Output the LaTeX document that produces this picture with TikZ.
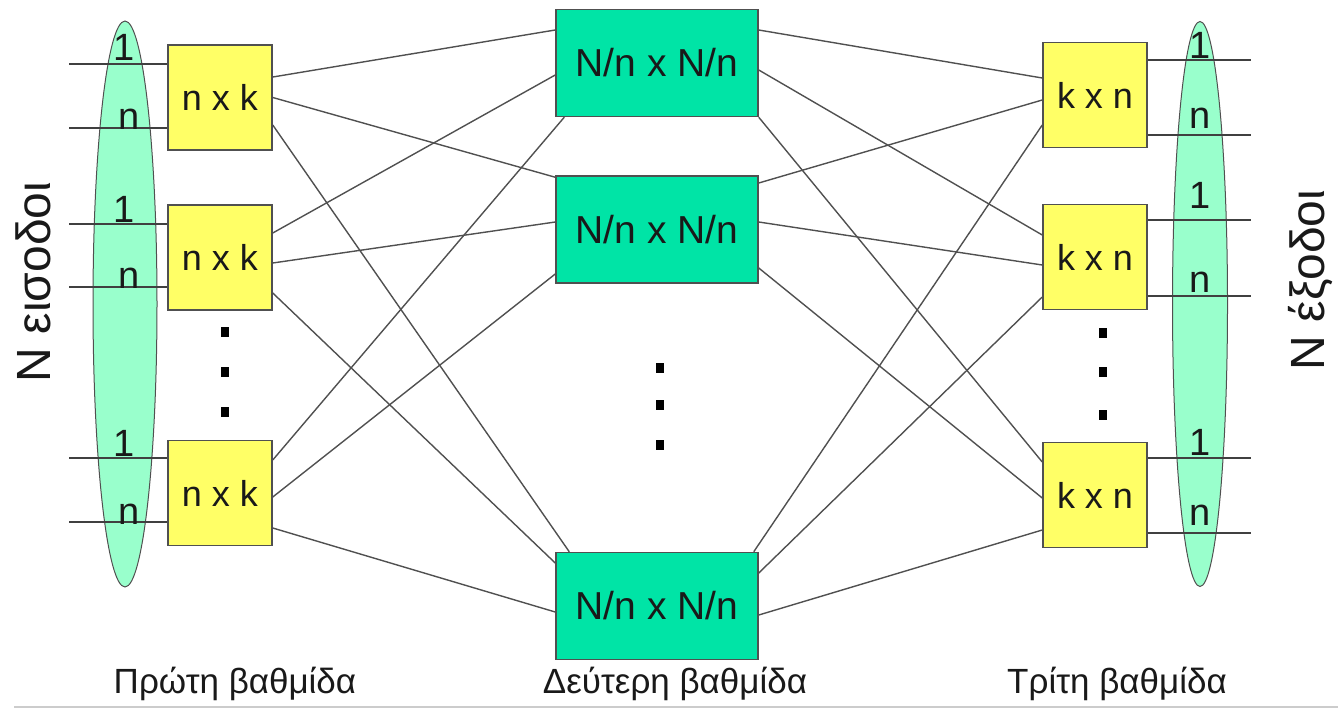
\documentclass[tikz,border=0pt]{standalone}
\usepackage{fontspec}
\setmainfont{Liberation Sans}
\usetikzlibrary{shapes.geometric}

\definecolor{swyellow}{RGB}{255,255,102}
\definecolor{swteal}{RGB}{0,228,166}
\definecolor{swmint}{RGB}{153,255,204}
\definecolor{edgegray}{RGB}{80,80,80}

\begin{document}
\begin{tikzpicture}[
            x = 1pt, y = -1pt,
            every node/.style={inner sep=0pt, text=black!90},
            sidebox/.style={draw=edgegray, line width=1.5pt, fill=swyellow,
                minimum width=104pt, minimum height=105pt, font=\fontsize{36}{40}\selectfont},
            midbox/.style={draw=edgegray, line width=1.5pt, fill=swteal,
                minimum width=202pt, minimum height=107pt, font=\fontsize{39}{44}\selectfont},
            bundle/.style={ellipse, draw=edgegray, line width=1pt, fill=swmint},
            port/.style={anchor=base, font=\fontsize{38}{40}\selectfont},
            stage/.style={anchor=base, font=\fontsize{35}{40}\selectfont},
            side/.style={rotate=90, font=\fontsize{48}{50}\selectfont},
            wire/.style={draw=edgegray, line width=1.4pt},
            io/.style={draw=black!75, line width=1.5pt},
            ]
        \useasboundingbox (0,0) rectangle (1338,709);

        % input and output bundles
        \node[bundle, minimum width=64pt, minimum height=566pt] (inb) at (125,304) {};
        \node[bundle, minimum width=55pt, minimum height=565pt] (outb) at (1200,304) {};

        % three stages
        \node[sidebox] (L1) at (220,97.5) {n x k};
        \node[sidebox] (L2) at (220,257.5) {n x k};
        \node[sidebox] (L3) at (220,493) {n x k};

        \node[midbox] (M1) at (657,63) {N/n x N/n};
        \node[midbox] (M2) at (657,229.5) {N/n x N/n};
        \node[midbox] (M3) at (657,606) {N/n x N/n};

        \node[sidebox] (R1) at (1095,95) {k x n};
        \node[sidebox] (R2) at (1095,257) {k x n};
        \node[sidebox] (R3) at (1095,495) {k x n};

        % inputs / outputs
        \draw[io] ([yshift=33.5pt]L1.west) -- ++(-98,0);
        \draw[io] ([yshift=-30.5pt]L1.west) -- ++(-98,0);
        \draw[io] ([yshift=33.5pt]L2.west) -- ++(-98,0);
        \draw[io] ([yshift=-29.5pt]L2.west) -- ++(-98,0);
        \draw[io] ([yshift=35pt]L3.west) -- ++(-98,0);
        \draw[io] ([yshift=-29pt]L3.west) -- ++(-98,0);

        \draw[io] ([yshift=35pt]R1.east) -- ++(103,0);
        \draw[io] ([yshift=-40pt]R1.east) -- ++(103,0);
        \draw[io] ([yshift=37pt]R2.east) -- ++(103,0);
        \draw[io] ([yshift=-39pt]R2.east) -- ++(103,0);
        \draw[io] ([yshift=37pt]R3.east) -- ++(103,0);
        \draw[io] ([yshift=-38pt]R3.east) -- ++(103,0);

        % first stage -> second stage
        \draw[wire] ([yshift=20.5pt]L1.east) -- ([yshift=33pt]M1.west);
        \draw[wire] (L1.east) -- ([yshift=-2pt]M2.north west);
        \draw[wire] ([yshift=-27.5pt]L1.east) -- ([xshift=14pt]M3.north west);
        \draw[wire] ([yshift=24.5pt]L2.east) -- ([yshift=-12pt]M1.west);
        \draw[wire] ([yshift=-5.5pt]L2.east) -- ([yshift=7.5pt]M2.west);
        \draw[wire] ([yshift=-35.5pt]L2.east) -- ([yshift=43pt]M3.west);
        \draw[wire] ([yshift=33pt]L3.east) -- ([xshift=9pt]M1.south west);
        \draw[wire] ([yshift=-4pt]L3.east) -- ([yshift=-44.5pt]M2.west);
        \draw[wire] ([yshift=-35pt]L3.east) -- ([yshift=-6pt]M3.west);

        % second stage -> third stage
        \draw[wire] ([yshift=33pt]M1.east) -- ([yshift=17pt]R1.west);
        \draw[wire] ([yshift=-7pt]M1.east) -- ([yshift=22pt]R2.west);
        \draw[wire] (M1.south east) -- ([yshift=33pt]R3.west);
        \draw[wire] ([yshift=46.5pt]M2.east) -- ([yshift=-5pt]R1.west);
        \draw[wire] ([yshift=7.5pt]M2.east) -- ([yshift=-8pt]R2.west);
        \draw[wire] ([yshift=-38.5pt]M2.east) -- ([yshift=-3pt]R3.west);
        \draw[wire] ([xshift=-5pt]M3.north east) -- ([yshift=-30pt]R1.west);
        \draw[wire] ([yshift=33pt]M3.east) -- ([yshift=-40pt]R2.west);
        \draw[wire] ([yshift=-9pt]M3.east) -- ([yshift=-35pt]R3.west);

        % port numbers
        \node[port] (i11) at (124,61) {1};
        \node[port] (i1n) at (129,129) {n};
        \node[port] (i21) at (124,222) {1};
        \node[port] (i2n) at (129,288) {n};
        \node[port] (i31) at (124,456) {1};
        \node[port] (i3n) at (129,524) {n};

        \node[port] (o11) at (1200,59) {1};
        \node[port] (o1n) at (1200,128) {n};
        \node[port] (o21) at (1200,208) {1};
        \node[port] (o2n) at (1200,292) {n};
        \node[port] (o31) at (1200,455) {1};
        \node[port] (o3n) at (1200,525) {n};

        % vertical dots
        \fill (221,327) rectangle ++(8,10);
        \fill (221,367) rectangle ++(8,10);
        \fill (221,407) rectangle ++(8,10);
        \fill (656,363) rectangle ++(8,10);
        \fill (656,400) rectangle ++(8,10);
        \fill (656,440) rectangle ++(8,10);
        \fill (1099,328) rectangle ++(8,10);
        \fill (1099,367) rectangle ++(8,10);
        \fill (1099,410) rectangle ++(8,10);

        % labels
        \node[side] (nin) at (33,282) {N εισοδοι};
        \node[side] (nout) at (1311,280) {N έξοδοι};
        \node[stage] (s1) at (235,693) {Πρώτη βαθμίδα};
        \node[stage] (s2) at (675,693) {Δεύτερη βαθμίδα};
        \node[stage] (s3) at (1117,693) {Τρίτη βαθμίδα};

        \draw[black!20, line width=2pt] (14,707) -- (1338,707);
    \end{tikzpicture}
\end{document}
